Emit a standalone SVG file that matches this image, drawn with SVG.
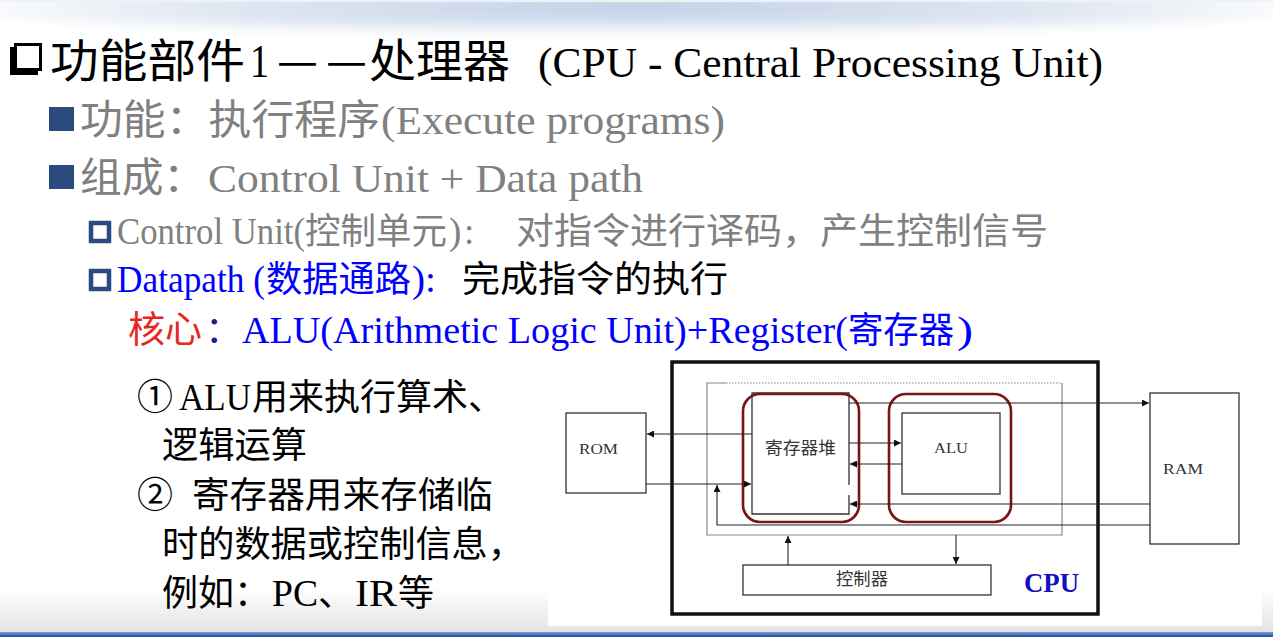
<svg xmlns="http://www.w3.org/2000/svg" width="1273" height="637" viewBox="0 0 1273 637">
  <defs>
    <radialGradient id="topGlow" cx="636" cy="8" r="700" gradientUnits="userSpaceOnUse" gradientTransform="translate(0 8) scale(1 0.05) translate(0 -8)">
      <stop offset="0" stop-color="#c3d2e8"/>
      <stop offset="0.6" stop-color="#dfe7f2"/>
      <stop offset="1" stop-color="#ffffff"/>
    </radialGradient>
    <linearGradient id="topFade" x1="0" y1="0" x2="0" y2="1">
      <stop offset="0" stop-color="#ffffff" stop-opacity="0"/>
      <stop offset="0.45" stop-color="#ffffff" stop-opacity="0"/>
      <stop offset="1" stop-color="#ffffff" stop-opacity="1"/>
    </linearGradient>
    <linearGradient id="bottomShade" x1="0" y1="0" x2="0" y2="1">
      <stop offset="0" stop-color="#ffffff"/>
      <stop offset="1" stop-color="#e2e2e2"/>
    </linearGradient>
    <linearGradient id="bottomBar" x1="0" y1="0" x2="0" y2="1">
      <stop offset="0" stop-color="#7f9dd0"/>
      <stop offset="1" stop-color="#1d4c9a"/>
    </linearGradient>
    <marker id="arrow" viewBox="0 0 10 10" refX="10" refY="5" markerWidth="9" markerHeight="7" markerUnits="userSpaceOnUse" orient="auto">
      <path d="M0 0 L10 5 L0 10 Z" fill="#111"/>
    </marker>
    <style>
      .cjk { font-family: "Noto Sans CJK SC", sans-serif; }
      .ser { font-family: "Liberation Serif", "Noto Sans CJK SC", serif; }
      .gray { fill: #808080; }
      .blue { fill: #0000ff; }
      .black { fill: #000000; }
      .bullet { fill: #2c4a7e; }
      .hollow { fill: #ffffff; stroke: #2c4a7e; stroke-width: 4.5; }
      .box { fill: #ffffff; stroke: #333333; stroke-width: 1.3; }
      .frame { fill: none; stroke: #888888; stroke-width: 1.2; }
      .wire { fill: none; stroke: #222222; stroke-width: 1.1; }
      .ring { fill: none; stroke: #7b1414; stroke-width: 2.6; }
      .lbl { font-family: "Liberation Serif", serif; font-size: 15px; fill: #333333; }
      .clbl { font-family: "Noto Sans CJK SC", sans-serif; font-size: 17px; fill: #333333; }
    </style>
  </defs>

  <!-- slide background -->
  <rect x="0" y="0" width="1273" height="637" fill="#ffffff"/>
  <rect x="0" y="0" width="1273" height="45" fill="url(#topGlow)"/>
  <rect x="0" y="0" width="1273" height="45" fill="url(#topFade)"/>
  <rect x="0" y="0" width="1273" height="2" fill="#eef1f6"/>
  <rect x="0" y="588" width="1273" height="45" fill="url(#bottomShade)"/>
  <rect x="0" y="632" width="1273" height="5" fill="url(#bottomBar)"/>
  <!-- white backing of the CPU figure -->
  <rect x="548" y="355" width="714" height="271" fill="#ffffff"/>

  <!-- heading -->
  <g id="heading">
    <rect x="10" y="47" width="28" height="28" fill="#000"/>
    <rect x="15.5" y="44.5" width="25" height="25" fill="#ffffff" stroke="#000" stroke-width="3"/>
    <text class="cjk black" x="50" y="77" font-size="46" textLength="195" lengthAdjust="spacingAndGlyphs">功能部件</text>
    <text class="ser black" x="250" y="77" font-size="46" textLength="19" lengthAdjust="spacingAndGlyphs">1</text>
    <text class="cjk black" x="277" y="77" font-size="46" textLength="41" lengthAdjust="spacingAndGlyphs">—</text>
    <text class="cjk black" x="326" y="77" font-size="46" textLength="41" lengthAdjust="spacingAndGlyphs">—</text>
    <text class="cjk black" x="369" y="77" font-size="46" textLength="141" lengthAdjust="spacingAndGlyphs">处理器</text>
    <text class="ser black" x="538" y="77" font-size="42" textLength="565" lengthAdjust="spacingAndGlyphs">(CPU - Central Processing Unit)</text>
  </g>

  <!-- bullet: function -->
  <g id="item-function">
    <rect class="bullet" x="49" y="107" width="25" height="24"/>
    <text class="cjk gray" x="80" y="134" font-size="41" textLength="300" lengthAdjust="spacingAndGlyphs">功能：执行程序</text>
    <text class="ser gray" x="381" y="134" font-size="40" textLength="344" lengthAdjust="spacingAndGlyphs">(Execute programs)</text>
  </g>

  <!-- bullet: composition -->
  <g id="item-composition">
    <rect class="bullet" x="49" y="165" width="25" height="24"/>
    <text class="cjk gray" x="80" y="192" font-size="41" textLength="125" lengthAdjust="spacingAndGlyphs">组成：</text>
    <text class="ser gray" x="208" y="192" font-size="40" textLength="435" lengthAdjust="spacingAndGlyphs">Control Unit + Data path</text>
  </g>

  <!-- sub bullet: control unit -->
  <g id="item-control-unit">
    <rect class="hollow" x="91" y="223" width="18" height="18"/>
    <text class="ser gray" x="117" y="244" font-size="37" textLength="188" lengthAdjust="spacingAndGlyphs">Control Unit(</text>
    <text class="cjk gray" x="305" y="244" font-size="36" textLength="142" lengthAdjust="spacingAndGlyphs">控制单元</text>
    <text class="ser gray" x="449" y="244" font-size="37">)</text>
    <text class="ser gray" x="464" y="244" font-size="37">:</text>
    <text class="cjk gray" x="516" y="244" font-size="36" textLength="532" lengthAdjust="spacingAndGlyphs">对指令进行译码，产生控制信号</text>
  </g>

  <!-- sub bullet: datapath -->
  <g id="item-datapath">
    <rect class="hollow" x="91" y="271" width="18" height="18"/>
    <text class="ser blue" x="117" y="292" font-size="37" textLength="148" lengthAdjust="spacingAndGlyphs">Datapath (</text>
    <text class="cjk blue" x="266" y="292" font-size="36" textLength="145" lengthAdjust="spacingAndGlyphs">数据通路</text>
    <text class="ser blue" x="412" y="292" font-size="37" textLength="24" lengthAdjust="spacingAndGlyphs">):</text>
    <text class="cjk black" x="462" y="292" font-size="36" textLength="266" lengthAdjust="spacingAndGlyphs">完成指令的执行</text>
  </g>

  <!-- core line -->
  <g id="item-core">
    <text class="cjk" x="128" y="343" font-size="37" fill="#e8261e" textLength="74" lengthAdjust="spacingAndGlyphs">核心</text>
    <text class="cjk" x="205" y="343" font-size="37" fill="#1c1c8a">：</text>
    <text class="ser blue" x="242" y="343" font-size="38" textLength="606" lengthAdjust="spacingAndGlyphs">ALU(Arithmetic Logic Unit)+Register(</text>
    <text class="cjk blue" x="848" y="343" font-size="36" textLength="106" lengthAdjust="spacingAndGlyphs">寄存器</text>
    <text class="ser blue" x="957" y="343" font-size="38" textLength="16" lengthAdjust="spacingAndGlyphs">)</text>
  </g>

  <!-- notes -->
  <g id="notes" class="black">
    <text class="cjk" x="137" y="410" font-size="36">①</text>
    <text class="ser" x="179" y="410" font-size="37" textLength="72" lengthAdjust="spacingAndGlyphs">ALU</text>
    <text class="cjk" x="252" y="410" font-size="36" textLength="252" lengthAdjust="spacingAndGlyphs">用来执行算术、</text>
    <text class="cjk" x="162" y="458" font-size="36" textLength="145" lengthAdjust="spacingAndGlyphs">逻辑运算</text>
    <text class="cjk" x="137" y="508" font-size="36">②</text>
    <text class="cjk" x="192" y="508" font-size="36" textLength="301" lengthAdjust="spacingAndGlyphs">寄存器用来存储临</text>
    <text class="cjk" x="162" y="557" font-size="36" textLength="362" lengthAdjust="spacingAndGlyphs">时的数据或控制信息，</text>
    <text class="cjk" x="162" y="606" font-size="36" textLength="108" lengthAdjust="spacingAndGlyphs">例如：</text>
    <text class="ser" x="272" y="606" font-size="37" textLength="46" lengthAdjust="spacingAndGlyphs">PC</text>
    <text class="cjk" x="318" y="606" font-size="36">、</text>
    <text class="ser" x="355" y="606" font-size="37" textLength="42" lengthAdjust="spacingAndGlyphs">IR</text>
    <text class="cjk" x="398" y="606" font-size="36">等</text>
  </g>

  <!-- CPU figure -->
  <g id="cpu">
    <rect x="672" y="362" width="426" height="252" fill="none" stroke="#111" stroke-width="3.5"/>
    <text x="1024" y="592" font-family="Liberation Serif, serif" font-weight="bold" font-size="27" fill="#1010c0" textLength="55" lengthAdjust="spacingAndGlyphs">CPU</text>
  </g>
  <g id="datapath-frame">
    <path class="frame" d="M726 383 H707 V535 H1062 V383"/>
    <path class="frame" d="M726 383 H1062" stroke-dasharray="1.5 1.5"/>
  </g>
  <g id="rom">
    <rect class="box" x="566" y="413" width="80" height="80"/>
    <text class="lbl" x="579" y="454" textLength="39" lengthAdjust="spacingAndGlyphs">ROM</text>
  </g>
  <g id="ram">
    <rect class="box" x="1150" y="393" width="89" height="151"/>
    <text class="lbl" x="1163" y="474" textLength="40" lengthAdjust="spacingAndGlyphs">RAM</text>
  </g>
  <g id="register-file">
    <path d="M849 485 V393 H752 V514 H849 V495" fill="#ffffff" stroke="#333" stroke-width="1.3"/>
    <text class="clbl" x="765" y="454" textLength="71" lengthAdjust="spacingAndGlyphs">寄存器堆</text>
    <rect class="ring" x="743" y="394" width="116" height="128" rx="17"/>
  </g>
  <g id="alu">
    <rect class="box" x="902" y="413" width="98" height="81"/>
    <text class="lbl" x="934" y="453" textLength="34" lengthAdjust="spacingAndGlyphs">ALU</text>
    <rect class="ring" x="889" y="394" width="122" height="128" rx="17"/>
  </g>
  <g id="controller">
    <rect class="box" x="743" y="565" width="248" height="30"/>
    <text class="clbl" x="836" y="585" textLength="52" lengthAdjust="spacingAndGlyphs">控制器</text>
  </g>

  <g id="connectors">
    <path class="wire" d="M752 434 H647" marker-end="url(#arrow)"/>
    <path class="wire" d="M646 484 H751" marker-end="url(#arrow)"/>
    <path class="wire" d="M1150 525 H717 V485" marker-end="url(#arrow)"/>
    <path class="wire" d="M1150 504 H850" marker-end="url(#arrow)"/>
    <path class="wire" d="M849 443 H901" marker-end="url(#arrow)"/>
    <path class="wire" d="M902 464 H850" marker-end="url(#arrow)"/>
    <path class="wire" d="M849 403 H1149" marker-end="url(#arrow)"/>
    <path class="wire" d="M788 565 V536" marker-end="url(#arrow)"/>
    <path class="wire" d="M956 535 V564" marker-end="url(#arrow)"/>
  </g>
</svg>
